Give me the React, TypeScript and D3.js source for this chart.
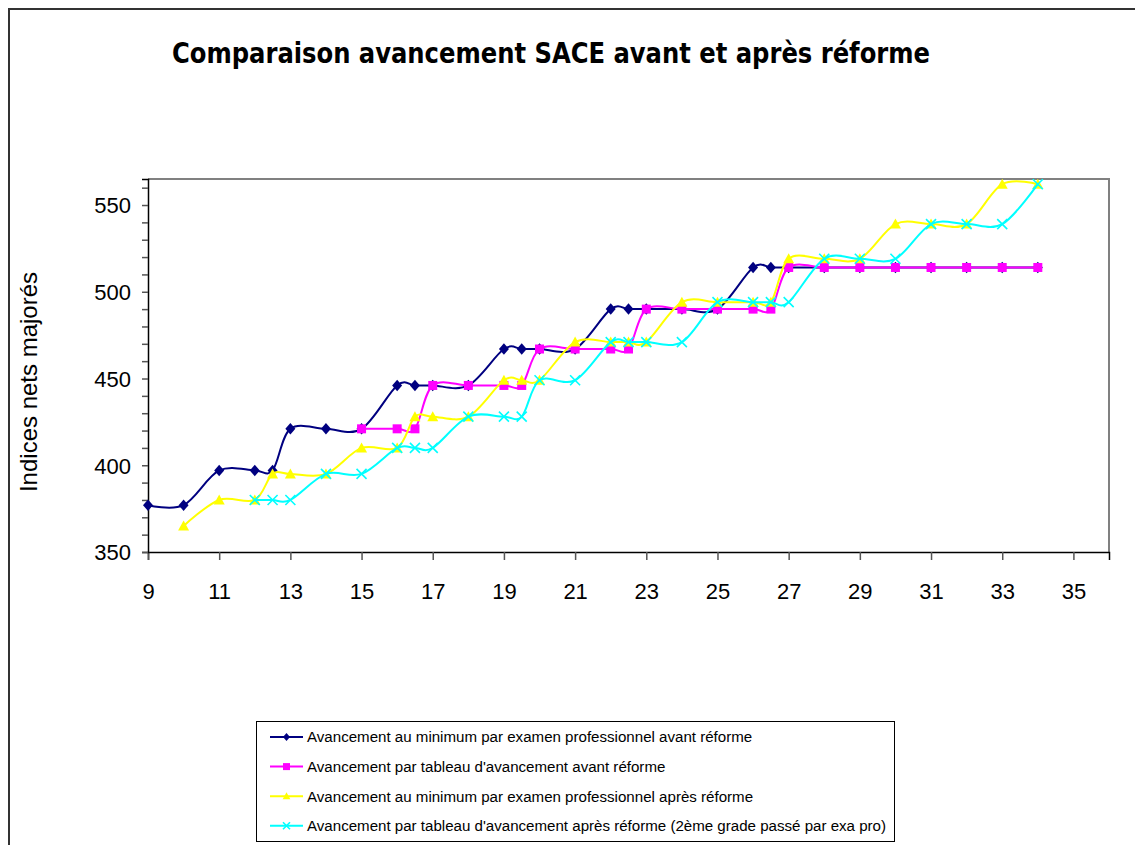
import React, { useEffect, useRef } from "react";
import * as d3 from "d3";

// series: x = années de carrière, y = indice net majoré
const navyX = [9, 10, 11, 12, 12.5, 13, 14, 15, 16, 16.5, 17, 18, 19, 19.5, 20, 21, 22, 22.5, 23, 24, 25, 26, 26.5, 27, 28, 29, 30, 31, 32, 33, 34];
const navyY = [377, 377, 397, 397, 397, 421, 421, 421, 446, 446, 446, 446, 467, 467, 467, 467, 490, 490, 490, 490, 490, 514, 514, 514, 514, 514, 514, 514, 514, 514, 514];

const pinkX = [15, 16, 16.5, 17, 18, 19, 19.5, 20, 21, 22, 22.5, 23, 24, 25, 26, 26.5, 27, 28, 29, 30, 31, 32, 33, 34];
const pinkY = [421, 421, 421, 446, 446, 446, 446, 467, 467, 467, 467, 490, 490, 490, 490, 490, 514, 514, 514, 514, 514, 514, 514, 514];

const yellowX = [10, 11, 12, 12.5, 13, 14, 15, 16, 16.5, 17, 18, 19, 19.5, 20, 21, 22, 22.5, 23, 24, 25, 26, 26.5, 27, 28, 29, 30, 31, 32, 33, 34];
const yellowY = [365, 380, 380, 395, 395, 395, 410, 410, 428, 428, 428, 449, 449, 449, 471, 471, 471, 471, 494, 494, 494, 494, 519, 519, 519, 539, 539, 539, 562, 562];

const cyanX = [12, 12.5, 13, 14, 15, 16, 16.5, 17, 18, 19, 19.5, 20, 21, 22, 22.5, 23, 24, 25, 26, 26.5, 27, 28, 29, 30, 31, 32, 33, 34];
const cyanY = [380, 380, 380, 395, 395, 410, 410, 410, 428, 428, 428, 449, 449, 471, 471, 471, 471, 494, 494, 494, 494, 519, 519, 519, 539, 539, 539, 562];

const seriesNames = [
  "Avancement au minimum par examen professionnel avant réforme",
  "Avancement par tableau d'avancement avant réforme",
  "Avancement au minimum par examen professionnel après réforme",
  "Avancement par tableau d'avancement après réforme (2ème grade passé par exa pro)",
];
const seriesColors = ["#000080", "#FF00FF", "#FFFF00", "#00FFFF"];
const seriesMarkers = ["diamond", "square", "triangle", "cross"];

const xTicks = d3.range(9, 36, 2);
const yTicks = d3.range(350, 561, 10);
const yLabels = [350, 400, 450, 500, 550];

const App = () => {
  const ref = useRef<SVGSVGElement>(null);

  useEffect(() => {
    draw();
  });

  const drawMarker = (g: any, kind: string, cx: number, cy: number, color: string, s: number) => {
    if (kind === "diamond") {
      g.append("path")
        .attr("d", `M${cx},${cy - s * 1.15}L${cx + s},${cy}L${cx},${cy + s * 1.15}L${cx - s},${cy}Z`)
        .attr("fill", color);
    } else if (kind === "square") {
      g.append("rect")
        .attr("x", cx - s).attr("y", cy - s)
        .attr("width", s * 2).attr("height", s * 2)
        .attr("fill", color);
    } else if (kind === "triangle") {
      g.append("path")
        .attr("d", `M${cx},${cy - s * 1.1}L${cx + s * 1.1},${cy + s * 0.9}L${cx - s * 1.1},${cy + s * 0.9}Z`)
        .attr("fill", color);
    } else {
      g.append("path")
        .attr("d", `M${cx - s},${cy - s}L${cx + s},${cy + s}M${cx - s},${cy + s}L${cx + s},${cy - s}`)
        .attr("stroke", color)
        .attr("stroke-width", 1.6)
        .attr("fill", "none");
    }
  };

  const draw = () => {
    const svg = d3.select(ref.current);
    svg.selectAll("*").remove();

    const left = 148, right = 1109, top = 179, bottom = 552;

    // outer chart border
    svg.append("rect")
      .attr("x", 9).attr("y", 9)
      .attr("width", 1140).attr("height", 850)
      .attr("fill", "#fff")
      .attr("stroke", "#333")
      .attr("stroke-width", 2);

    svg.append("text")
      .attr("x", 551).attr("y", 63)
      .attr("text-anchor", "middle")
      .attr("font-family", "'DejaVu Sans Condensed', 'DejaVu Sans', sans-serif")
      .attr("font-weight", "bold")
      .attr("font-size", 28)
      .attr("textLength", 758)
      .attr("lengthAdjust", "spacingAndGlyphs")
      .text("Comparaison avancement SACE avant et après réforme");

    const x = d3.scaleLinear().domain([9, 36]).range([left, right]);
    const y = d3.scaleLinear().domain([350, 565]).range([bottom, top]);

    // plot frame (top & right in grey)
    svg.append("path")
      .attr("d", `M${left},${top}H${right}V${bottom}`)
      .attr("fill", "none")
      .attr("stroke", "#808080")
      .attr("stroke-width", 2);

    const xAxis = svg.append("g")
      .attr("transform", `translate(0, ${bottom})`)
      .call(d3.axisBottom(x).tickValues(xTicks).tickSize(8).tickFormat((d) => String(d)));
    xAxis.select(".domain").attr("stroke", "#000").attr("stroke-width", 1.5);
    xAxis.selectAll(".tick line").attr("stroke", "#555").attr("stroke-width", 1.5);
    xAxis.selectAll(".tick text")
      .attr("font-family", "'Liberation Sans', Arial, sans-serif")
      .attr("font-size", 22)
      .attr("fill", "#000")
      .attr("dy", "0")
      .attr("y", 47);

    const yAxis = svg.append("g")
      .attr("transform", `translate(${left}, 0)`)
      .call(d3.axisLeft(y).tickValues(yTicks).tickSize(6)
        .tickFormat((d) => (yLabels.includes(d as number) ? String(d) : "")));
    yAxis.select(".domain").attr("stroke", "#000").attr("stroke-width", 1.5);
    yAxis.selectAll(".tick line").attr("stroke", "#555").attr("stroke-width", 1.5);
    yAxis.selectAll(".tick text")
      .attr("font-family", "'Liberation Sans', Arial, sans-serif")
      .attr("font-size", 22)
      .attr("fill", "#000")
      .attr("x", -17)
      .attr("dy", "0.36em");

    svg.append("text")
      .attr("transform", `translate(37, 382) rotate(-90)`)
      .attr("text-anchor", "middle")
      .attr("font-family", "'Liberation Sans', Arial, sans-serif")
      .attr("font-size", 24)
      .text("Indices nets majorés");

    const allX = [navyX, pinkX, yellowX, cyanX];
    const allY = [navyY, pinkY, yellowY, cyanY];
    const sizes = [5, 4.5, 5, 5];

    const line = d3.line<number[]>()
      .x((d) => x(d[0]))
      .y((d) => y(d[1]))
      .curve(d3.curveCardinal.tension(0));

    allX.forEach((xs, i) => {
      const pts = xs.map((v, j) => [v, allY[i][j]]);
      const g = svg.append("g");
      g.append("path")
        .datum(pts)
        .attr("fill", "none")
        .attr("stroke", seriesColors[i])
        .attr("stroke-width", 2)
        .attr("d", line);
      pts.forEach((p) => drawMarker(g, seriesMarkers[i], x(p[0]), y(p[1]), seriesColors[i], sizes[i]));
    });

    // legend
    const lg = svg.append("g");
    lg.append("rect")
      .attr("x", 256.5).attr("y", 721.5)
      .attr("width", 638).attr("height", 120)
      .attr("fill", "#fff")
      .attr("stroke", "#000")
      .attr("stroke-width", 1);
    seriesNames.forEach((name, i) => {
      const ly = 737 + i * 29.6;
      lg.append("line")
        .attr("x1", 270).attr("x2", 303)
        .attr("y1", ly).attr("y2", ly)
        .attr("stroke", seriesColors[i])
        .attr("stroke-width", 2);
      drawMarker(lg, seriesMarkers[i], 286.5, ly, seriesColors[i], 3.5);
      lg.append("text")
        .attr("x", 307).attr("y", ly)
        .attr("dy", "0.36em")
        .attr("font-family", "'Liberation Sans', Arial, sans-serif")
        .attr("font-size", 15.1)
        .text(name);
    });
  };

  return (
    <svg
      ref={ref}
      width={1135}
      height={845}
      style={{ position: "absolute", left: 0, top: 0, background: "#fff" }}
    />
  );
};

export default App;
